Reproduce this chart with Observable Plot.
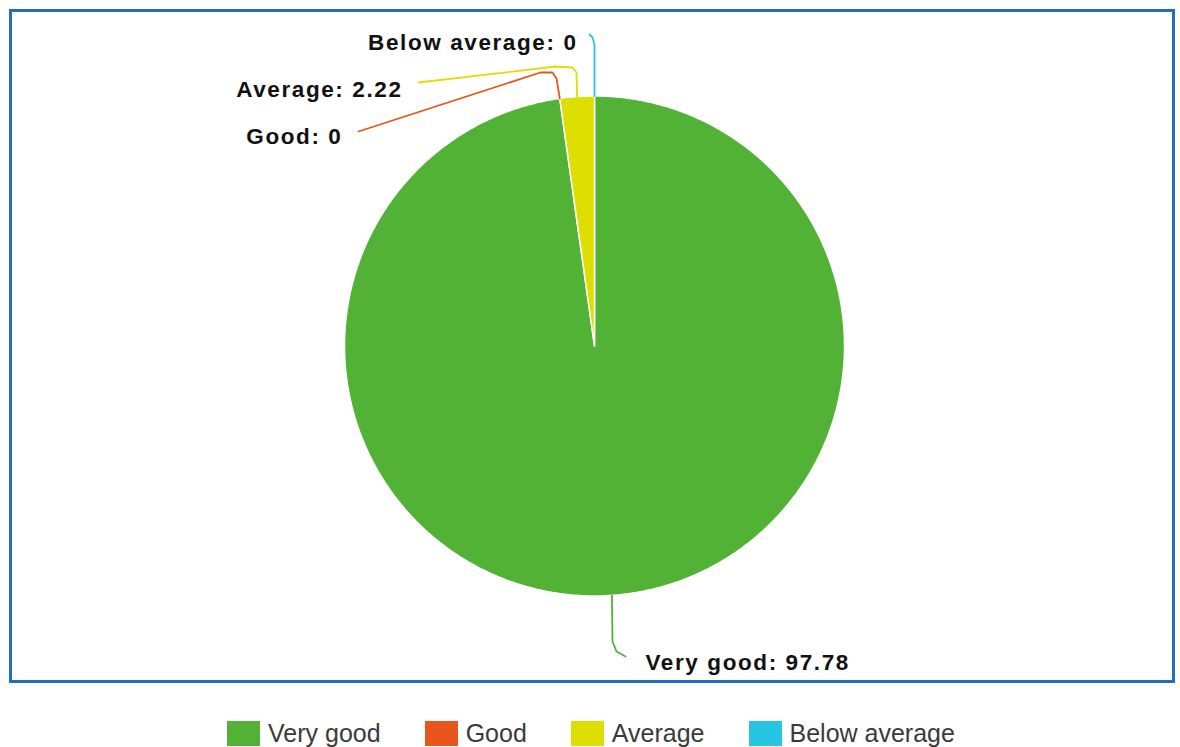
<!DOCTYPE html>
<html>
<head>
<meta charset="utf-8">
<script src="https://cdn.jsdelivr.net/npm/d3@7"></script>
<script src="https://cdn.jsdelivr.net/npm/@observablehq/plot@0.6"></script>
<style>
  html, body { margin: 0; padding: 0; background: #fff; }
  #chart svg text { letter-spacing: 1.6px; }
  #legend { display: flex; justify-content: center; align-items: center; margin-top: 34px; margin-left: 2px;
            font-family: "Liberation Sans", Arial, sans-serif; font-size: 25px; color: #3a3a3a; }
  #legend .item { display: flex; align-items: center; margin: 0 22px; }
  #legend .sw { width: 33px; height: 25px; margin-right: 8px; }
</style>
</head>
<body>
<div id="chart"></div>
<div id="legend"></div>
<script>
// ---- data ----
const categories = ["Very good", "Good", "Average", "Below average"];
const values = [97.78, 0, 2.22, 0];
const colors = ["#52b236", "#e8561e", "#dede00", "#26c6e2"];

// ---- layout (pixels) ----
const W = 1180, H = 685;
const CX = 594, CY = 345.5, R = 250;
const mL = 10, mT = 10, mR = 7, mB = 4;
// label anchors and leader bends (page pixels)
const labelLayout = {
  "Very good":     {anchor: "start", pos: [645, 662], bends: [[612, 641], [616, 651], [625, 656]]},
  "Good":          {anchor: "end",   pos: [342, 136], bends: [[556, 78], [552, 72], [540, 72], [358, 131]]},
  "Average":       {anchor: "end",   pos: [402, 89],  bends: [[576, 72], [572, 67], [555, 66], [418, 82]]},
  "Below average": {anchor: "end",   pos: [577, 42],  bends: [[594, 44], [592, 37], [589, 34]]}
};
const toUnit = ([px, py]) => [(px - CX) / R, (CY - py) / R];

// ---- pie geometry from data ----
const rows = categories.map((c, i) => ({name: c, value: values[i]}));
const arcs = d3.pie().sort(null).value(d => d.value)(rows);

const polys = [];
for (const a of arcs) {
  if (a.endAngle - a.startAngle <= 0) continue;
  polys.push({name: a.data.name, x: 0, y: 0});
  const n = Math.max(2, Math.ceil((a.endAngle - a.startAngle) / (Math.PI / 360)));
  for (let k = 0; k <= n; k++) {
    const t = a.startAngle + (a.endAngle - a.startAngle) * k / n;
    polys.push({name: a.data.name, x: Math.sin(t), y: Math.cos(t)});
  }
}

const leaders = [];
const labels = [];
for (const a of arcs) {
  const name = a.data.name;
  const mid = (a.startAngle + a.endAngle) / 2;
  const L = labelLayout[name];
  leaders.push({name, x: Math.sin(mid), y: Math.cos(mid)});
  for (const b of L.bends) {
    const [x, y] = toUnit(b);
    leaders.push({name, x, y});
  }
  const [lx, ly] = toUnit(L.pos);
  labels.push({name, x: lx, y: ly, anchor: L.anchor, text: `${name}: ${a.data.value}`});
}

const xDomain = [(mL - CX) / R, (W - mR - CX) / R];
const yDomain = [(CY - (H - mB)) / R, (CY - mT) / R];

const chart = Plot.plot({
  width: W, height: H,
  marginLeft: mL, marginRight: mR, marginTop: mT, marginBottom: mB,
  x: {domain: xDomain, axis: null},
  y: {domain: yDomain, axis: null},
  color: {domain: categories, range: colors},
  style: {background: "#fff", overflow: "visible"},
  marks: [
    Plot.frame({stroke: "#2270bd", strokeWidth: 3}),
    Plot.line(polys, {x: "x", y: "y", z: "name", fill: "name", stroke: "white", strokeWidth: 1.5, curve: "linear-closed"}),
    Plot.line(leaders, {x: "x", y: "y", z: "name", stroke: "name", strokeWidth: 1.8, curve: "linear"}),
    Plot.text(labels.filter(d => d.anchor === "end"), {x: "x", y: "y", text: "text", textAnchor: "end",
      fontSize: 22.5, fontWeight: "bold", fontFamily: "Liberation Sans, Arial, sans-serif", fill: "#111"}),
    Plot.text(labels.filter(d => d.anchor === "start"), {x: "x", y: "y", text: "text", textAnchor: "start",
      fontSize: 22.5, fontWeight: "bold", fontFamily: "Liberation Sans, Arial, sans-serif", fill: "#111"})
  ]
});
document.getElementById("chart").append(chart);

// ---- legend ----
const legend = document.getElementById("legend");
categories.forEach((c, i) => {
  const item = document.createElement("div");
  item.className = "item";
  const sw = document.createElement("span");
  sw.className = "sw";
  sw.style.background = colors[i];
  const tx = document.createElement("span");
  tx.textContent = c;
  item.append(sw, tx);
  legend.append(item);
});
</script>
</body>
</html>
